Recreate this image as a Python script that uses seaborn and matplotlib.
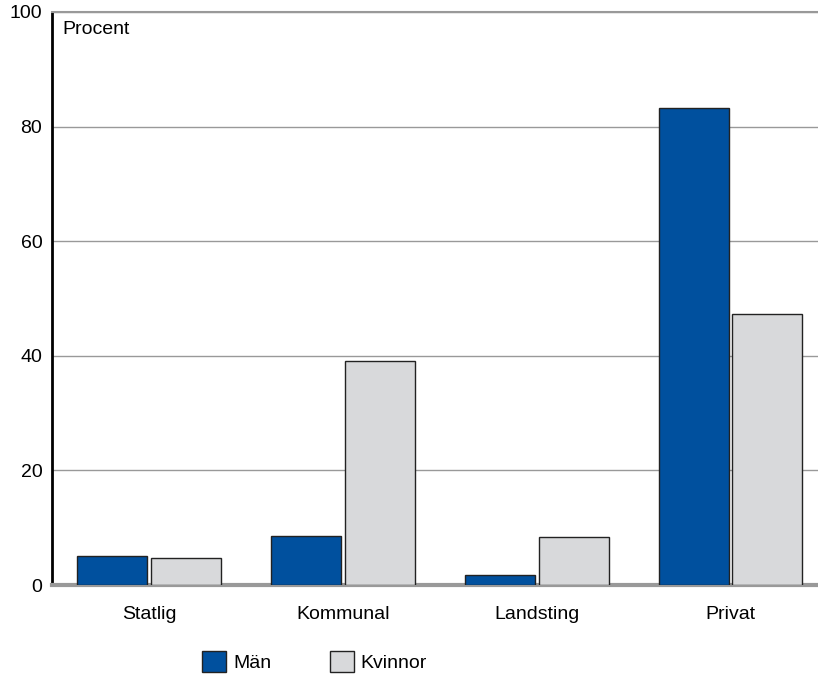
import seaborn as sns
import pandas as pd
import matplotlib.pyplot as plt
from matplotlib.patches import Patch

sektor = ["Statlig", "Kommunal", "Landsting", "Privat"]
man = [5.1, 8.6, 1.7, 83.2]
kvinnor = [4.7, 39.1, 8.4, 47.3]
yticks = [0, 20, 40, 60, 80, 100]

df = pd.DataFrame({
    "sektor": sektor * 2,
    "procent": man + kvinnor,
    "kon": ["Män"] * len(sektor) + ["Kvinnor"] * len(sektor),
})

sns.set_style("white")
plt.rcParams["font.family"] = ["Liberation Sans", "DejaVu Sans"]
plt.rcParams["text.color"] = "black"

fig = plt.figure(figsize=(8.18, 6.78), dpi=100)
ax = fig.add_axes([52 / 818, 93 / 678, 775.5 / 818, 573 / 678])

sns.barplot(data=df, x="sektor", y="procent", hue="kon",
            palette={"Män": "#00509e", "Kvinnor": "#d8d9db"},
            width=0.76, gap=0.05, edgecolor="#222222", linewidth=1,
            saturation=1, legend=False, ax=ax, zorder=3)

ax.set_xlim(-0.5, 3.5)
ax.set_ylim(0, 100)
ax.set_yticks(yticks)
ax.yaxis.grid(True, color="#999999", linewidth=1, zorder=0)
ax.set_axisbelow(True)
ax.set_xlabel("")
ax.set_ylabel("")
ax.tick_params(axis="x", length=0, pad=15, labelsize=14, labelcolor="black")
ax.tick_params(axis="y", length=0, pad=7, labelsize=14, labelcolor="black")

ax.spines["left"].set_color("black")
ax.spines["left"].set_linewidth(2)
ax.spines["bottom"].set_color("#999999")
ax.spines["bottom"].set_linewidth(3)
ax.spines["top"].set_color("#999999")
ax.spines["top"].set_linewidth(1.5)
ax.spines["right"].set_visible(False)

ax.text(0.013, 0.985, "Procent", transform=ax.transAxes, fontsize=14,
        va="top", ha="left", color="black")

handles = [Patch(facecolor="#00509e", edgecolor="#222222", label="Män"),
           Patch(facecolor="#d8d9db", edgecolor="#222222", label="Kvinnor")]
fig.legend(handles=handles, loc="upper left",
           bbox_to_anchor=(202 / 818, 1 - 651 / 678), ncol=2, frameon=False,
           fontsize=14, handlelength=1.25, handleheight=1.25,
           handletextpad=0.35, columnspacing=3.0, borderpad=0,
           borderaxespad=0, labelcolor="black")

fig.savefig("out.png", dpi=100)
